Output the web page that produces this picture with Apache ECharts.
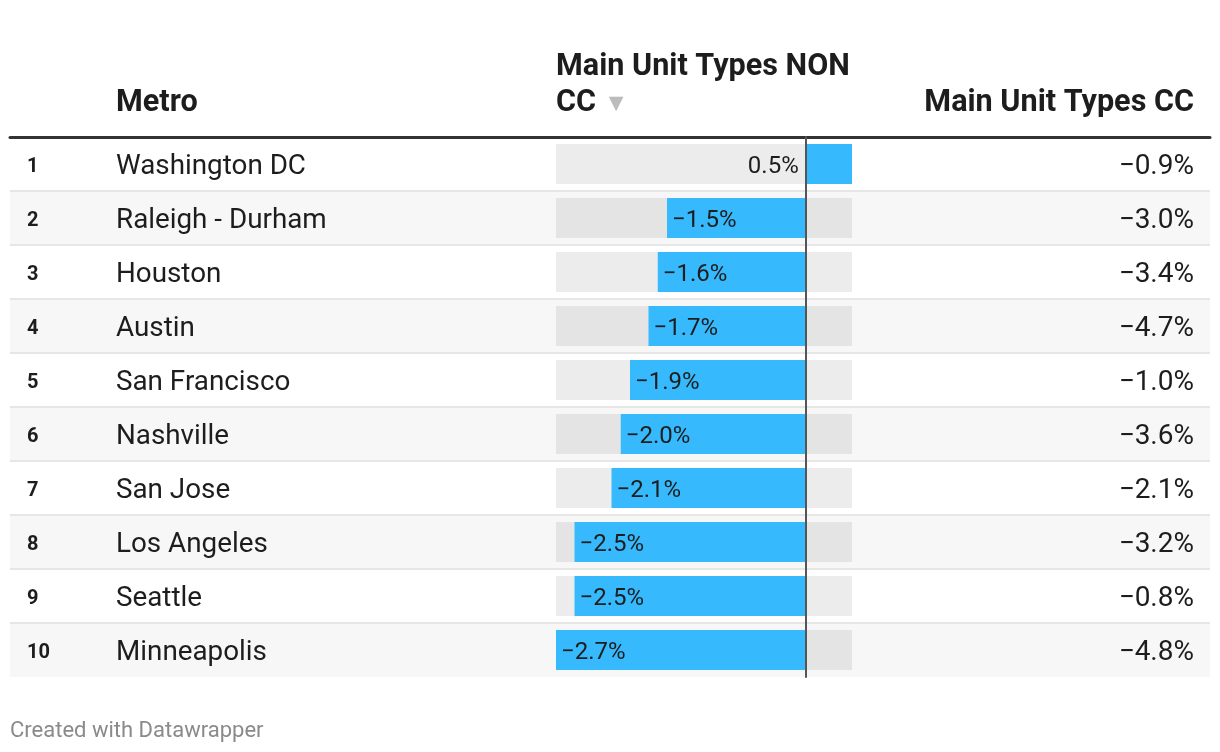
<!DOCTYPE html>
<html>
<head>
<meta charset="utf-8">
<style>
  html, body { margin: 0; padding: 0; background: #fff; }
  #chart { width: 1220px; height: 752px; }
</style>
<script src="https://cdn.jsdelivr.net/npm/echarts@6/dist/echarts.min.js"></script>
</head>
<body>
<div id="chart"></div>
<script>
const ranks = [1, 2, 3, 4, 5, 6, 7, 8, 9, 10];
const metros = ['Washington DC', 'Raleigh - Durham', 'Houston', 'Austin', 'San Francisco', 'Nashville', 'San Jose', 'Los Angeles', 'Seattle', 'Minneapolis'];
const nonCC = [0.5, -1.5, -1.6, -1.7, -1.9, -2.0, -2.1, -2.5, -2.5, -2.7];
const cc = [-0.9, -3.0, -3.4, -4.7, -1.0, -3.6, -2.1, -3.2, -0.8, -4.8];
const headers = ['Metro', 'Main Unit Types NON\nCC', 'Main Unit Types CC'];
const footer = 'Created with Datawrapper';

function fmt(v) {
  return (v < 0 ? '\u2212' : '') + Math.abs(v).toFixed(1) + '%';
}

const FONT = 'Roboto';
const chart = echarts.init(document.getElementById('chart'), null, { renderer: 'canvas' });

const HEAD = { fontFamily: FONT, fontSize: 30.6, fontWeight: 'bold', color: '#1d1d1d', lineHeight: 36 };

const option = {
  backgroundColor: '#ffffff',
  animation: false,
  textStyle: { fontFamily: FONT },
  title: [
    { text: headers[0], left: 116, top: 85, padding: 0, textStyle: HEAD },
    { text: headers[1].split('\n')[0] + '\n' + headers[1].split('\n')[1] + ' {t|\u25BC}', left: 556, top: 49, padding: 0,
      textStyle: Object.assign({}, HEAD, {
        rich: { t: { fontSize: 25, color: '#bcbcbc', lineHeight: 36, fontFamily: FONT, padding: [4, 0, 0, 0] } } }) },
    { text: headers[2], right: 26, top: 85, padding: 0, textStyle: HEAD },
    { text: footer, left: 10, top: 719, padding: 0,
      textStyle: { fontFamily: FONT, fontSize: 22, fontWeight: 'normal', color: '#8a8a8a', lineHeight: 24 } }
  ],
  grid: [
    { left: 10, right: 10, top: 137, height: 540, containLabel: false },
    { left: 556, width: 296, top: 137, height: 540, containLabel: false }
  ],
  xAxis: [
    { gridIndex: 0, type: 'value', min: 0, max: 1, position: 'top',
      axisLine: { show: true, onZero: false, lineStyle: { color: '#333333', width: 3 } },
      axisTick: { show: false }, axisLabel: { show: false }, splitLine: { show: false } },
    { gridIndex: 1, type: 'value', min: -2.7, max: 0.5,
      axisLine: { show: false }, axisTick: { show: false }, axisLabel: { show: false }, splitLine: { show: false } }
  ],
  yAxis: [
    { gridIndex: 0, type: 'category', inverse: true, data: metros, position: 'left',
      axisLine: { show: false }, axisTick: { show: false },
      splitArea: { show: true, areaStyle: { color: ['#ffffff', '#f7f7f7'] } },
      splitLine: { show: true, showMinLine: false, showMaxLine: false, lineStyle: { color: '#e6e6e6', width: 2 } },
      axisLabel: {
        align: 'left', margin: -17, padding: [6, 0, 0, 0],
        formatter: (val, idx) => '{r|' + ranks[idx] + '}{n|' + val + '}',
        rich: {
          r: { width: 89, fontSize: 20, fontWeight: 'bold', color: '#1d1d1d', fontFamily: FONT },
          n: { fontSize: 27.8, color: '#1d1d1d', fontFamily: FONT }
        }
      } },
    { gridIndex: 0, type: 'category', inverse: true, data: metros, position: 'right',
      axisLine: { show: false }, axisTick: { show: false }, splitLine: { show: false },
      axisLabel: {
        align: 'right', margin: -16,
        formatter: (val, idx) => '{v|' + fmt(cc[idx]) + '}',
        rich: { v: { fontSize: 28, color: '#1d1d1d', fontFamily: FONT, padding: [6, 0, 0, 0] } }
      } },
    { gridIndex: 1, type: 'category', inverse: true, data: metros,
      axisLine: { show: true, onZero: true, lineStyle: { color: '#555555', width: 2 } },
      axisTick: { show: false }, axisLabel: { show: false }, splitLine: { show: false }, z: 5 }
  ],
  series: [
    {
      type: 'bar', xAxisIndex: 1, yAxisIndex: 2,
      barWidth: 40,
      showBackground: true,
      backgroundStyle: { color: 'rgba(0,0,0,0.075)' },
      itemStyle: { color: '#36b9fd' },
      data: nonCC.map(v => ({
        value: v,
        label: v < 0 ? { position: 'insideLeft', distance: 5 } : { position: 'left', distance: 7 }
      })),
      label: {
        show: true,
        formatter: p => '{v|' + fmt(p.value) + '}',
        rich: { v: { fontSize: 24, color: '#1d1d1d', fontFamily: FONT, padding: [5, 0, 0, 0] } }
      }
    }
  ]
};
chart.setOption(option);
</script>
</body>
</html>
